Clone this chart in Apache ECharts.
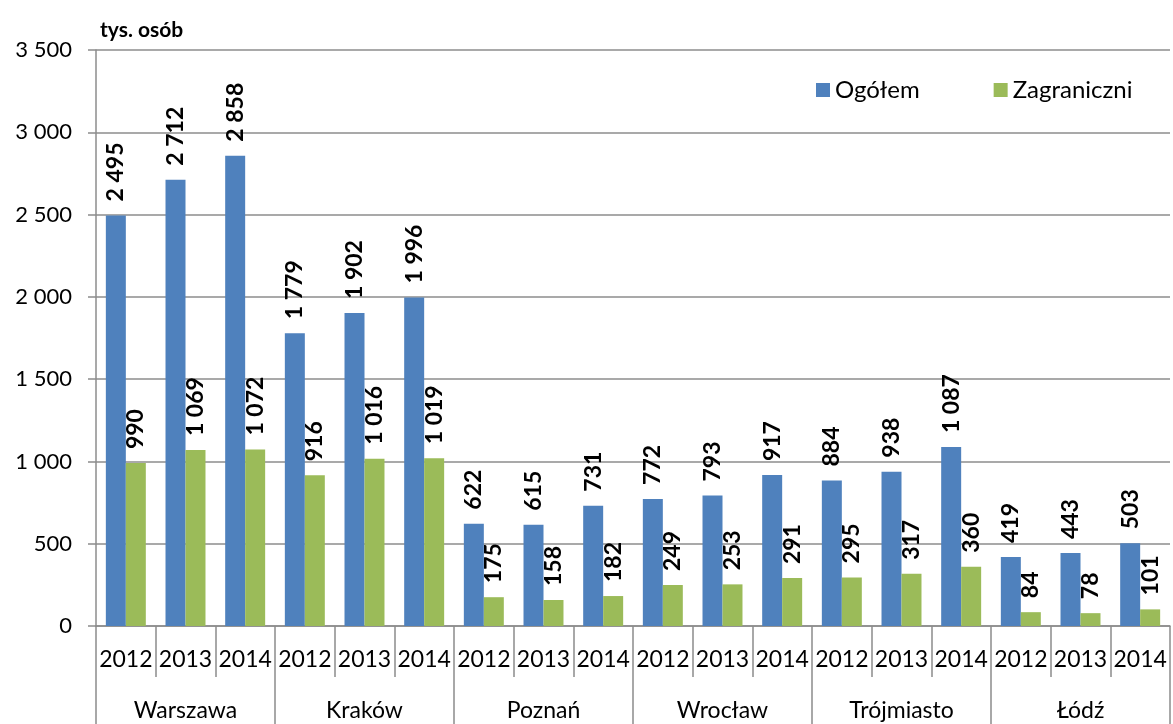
<!DOCTYPE html>
<html><head><meta charset="utf-8">
<script src="https://cdn.jsdelivr.net/npm/echarts@6/dist/echarts.min.js"></script>
<style>html,body{margin:0;padding:0;background:#fff}#c{width:1173px;height:724px}</style>
</head><body><div id="c"></div>
<script>
const years = ['2012','2013','2014','2012','2013','2014','2012','2013','2014','2012','2013','2014','2012','2013','2014','2012','2013','2014'];
const cities = ['Warszawa','Kraków','Poznań','Wrocław','Trójmiasto','Łódź'];
const ogolem = [2495,2712,2858,1779,1902,1996,622,615,731,772,793,917,884,938,1087,419,443,503];
const zagraniczni = [990,1069,1072,916,1016,1019,175,158,182,249,253,291,295,317,360,84,78,101];
const yTicks = [0,500,1000,1500,2000,2500,3000,3500];

const fmt = v => String(v).replace(/\B(?=(\d{3})+(?!\d))/g, ' ');
const FONT = 'Lato';
const gray = '#8c8c8c';
const chart = echarts.init(document.getElementById('c'));
const lbl = {show:true, position:'top', rotate:90, align:'left', verticalAlign:'middle', distance:14,
  fontFamily:FONT, fontWeight:'bold', fontSize:23, color:'#000', formatter:p=>fmt(p.value)};
chart.setOption({
  animation:false,
  textStyle:{fontFamily:FONT},
  grid:{left:96, right:3, top:50, bottom:98},
  title:{text:'tys. osób', left:95, top:15, textStyle:{fontFamily:FONT, fontWeight:'bold', fontSize:21, color:'#000'}},
  legend:{top:73, left:811, itemWidth:14, itemHeight:14, itemGap:74, icon:'rect',
    textStyle:{fontFamily:FONT, fontSize:24, color:'#000'}, data:['Ogółem','Zagraniczni']},
  xAxis:[
    {type:'category', data:years, position:'bottom',
      axisLine:{lineStyle:{color:gray, width:1.5}},
      axisTick:{show:true, interval:0, length:51, lineStyle:{color:gray, width:1.5}},
      axisLabel:{interval:0, margin:22, fontFamily:FONT, fontSize:23, color:'#000'}},
    {type:'category', data:cities, position:'bottom',
      axisLine:{show:false},
      axisTick:{show:true, interval:0, length:110, lineStyle:{color:gray, width:1.5}},
      axisLabel:{interval:0, margin:73, fontFamily:FONT, fontSize:23, color:'#000'}}
  ],
  yAxis:{type:'value', min:yTicks[0], max:yTicks[yTicks.length-1], interval:500,
    axisLine:{show:true, lineStyle:{color:gray, width:1.5}},
    axisTick:{show:true, length:8, lineStyle:{color:gray, width:1.5}},
    splitLine:{lineStyle:{color:gray, width:1.5}},
    axisLabel:{margin:24, fontFamily:FONT, fontSize:22, color:'#000', formatter:v=>fmt(v)}},
  series:[
    {name:'Ogółem', type:'bar', data:ogolem, barWidth:'33.5%', barGap:'0%', itemStyle:{color:'#4F81BD'}, label:lbl},
    {name:'Zagraniczni', type:'bar', data:zagraniczni, barWidth:'33.5%', barGap:'0%', itemStyle:{color:'#9BBB59'}, label:lbl}
  ]
});
</script></body></html>
